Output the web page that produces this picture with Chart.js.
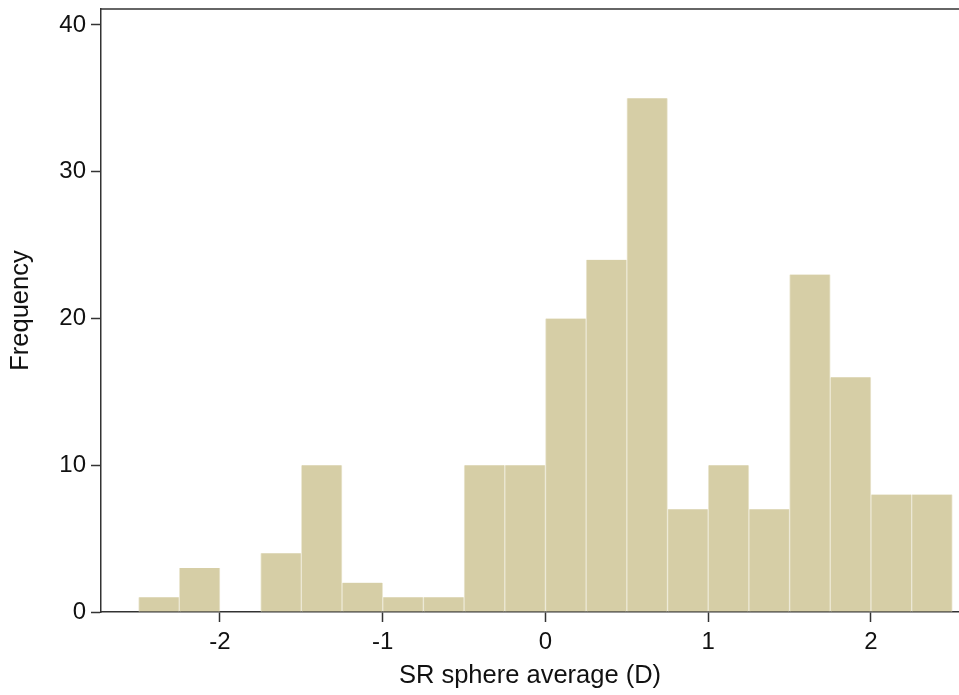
<!DOCTYPE html>
<html>
<head>
<meta charset="utf-8">
<script src="https://cdn.jsdelivr.net/npm/chart.js@4.4.1/dist/chart.umd.min.js"></script>
<style>
    html, body { margin: 0; padding: 0; background: #ffffff; }
    #wrap { width: 959px; height: 695px; }
</style>
</head>
<body>
<div id="wrap"><canvas id="hist" width="959" height="695"></canvas></div>
<script>
// bin centres (width 0.25) and counts
const binCenters = [-2.375, -2.125, -1.875, -1.625, -1.375, -1.125, -0.875, -0.625,
    -0.375, -0.125, 0.125, 0.375, 0.625, 0.875, 1.125, 1.375, 1.625, 1.875, 2.125, 2.375];
const counts = [1, 3, 0, 4, 10, 2, 1, 1, 10, 10, 20, 24, 35, 7, 10, 7, 23, 16, 8, 8];
const xTicks = [-2, -1, 0, 1, 2];
const yTicks = [0, 10, 20, 30, 40];

const fontFamily = "'Liberation Sans', Arial, sans-serif";

const topLine = {
    id: 'topLine',
    afterDraw(chart) {
        const { ctx, chartArea } = chart;
        ctx.save();
        ctx.strokeStyle = '#333333';
        ctx.lineWidth = 1.5;
        ctx.beginPath();
        ctx.moveTo(chartArea.left, chartArea.top);
        ctx.lineTo(chartArea.right, chartArea.top);
        ctx.stroke();
        ctx.restore();
    }
};

const hist_ctx = document.getElementById('hist');

let hist = new Chart(hist_ctx, {
    type: 'bar',
    data: {
        datasets: [{
            label: 'Frequency',
            data: binCenters.map((x, i) => ({ x: x, y: counts[i] })),
            backgroundColor: '#d6cea6',
            borderColor: '#ece8d4',
            borderWidth: { left: 1, right: 1, top: 0, bottom: 0 },
            borderSkipped: false,
            categoryPercentage: 1.0,
            barPercentage: 1.0,
        }]
    },
    options: {
        responsive: false,
        animation: false,
        layout: { padding: { top: 9, right: 0, left: 0, bottom: 0 } },
        plugins: {
            legend: { display: false },
            tooltip: { enabled: false },
        },
        scales: {
            x: {
                type: 'linear',
                offset: false,
                min: -2.731,
                max: 2.541,
                afterBuildTicks: (axis) => { axis.ticks = xTicks.map(v => ({ value: v })); },
                afterFit: (axis) => {
                    axis.height = 83;
                    axis.paddingLeft = 0;
                    axis.paddingRight = 0;
                },
                grid: { offset: false, drawOnChartArea: false, color: '#333333', tickLength: 10, tickWidth: 1.5 },
                border: { color: '#333333', width: 1.5 },
                ticks: { color: '#111111', font: { family: fontFamily, size: 24 }, padding: 6, maxRotation: 0 },
                title: {
                    display: true,
                    text: 'SR sphere average (D)',
                    color: '#111111',
                    font: { family: fontFamily, size: 25.5 },
                    padding: { top: 0, bottom: 4 },
                },
            },
            y: {
                min: 0,
                max: 41.09,
                afterBuildTicks: (axis) => { axis.ticks = yTicks.map(v => ({ value: v })); },
                afterFit: (axis) => {
                    axis.width = 101;
                    axis.paddingTop = 0;
                    axis.paddingBottom = 0;
                },
                grid: { drawOnChartArea: false, color: '#333333', tickLength: 10, tickWidth: 1.5 },
                border: { color: '#333333', width: 1.5 },
                ticks: { color: '#111111', font: { family: fontFamily, size: 24 }, padding: 5 },
                title: {
                    display: true,
                    text: 'Frequency',
                    color: '#111111',
                    font: { family: fontFamily, size: 25.5 },
                    padding: { top: 6, bottom: 0 },
                },
            }
        }
    },
    plugins: [topLine]
});
</script>
</body>
</html>
